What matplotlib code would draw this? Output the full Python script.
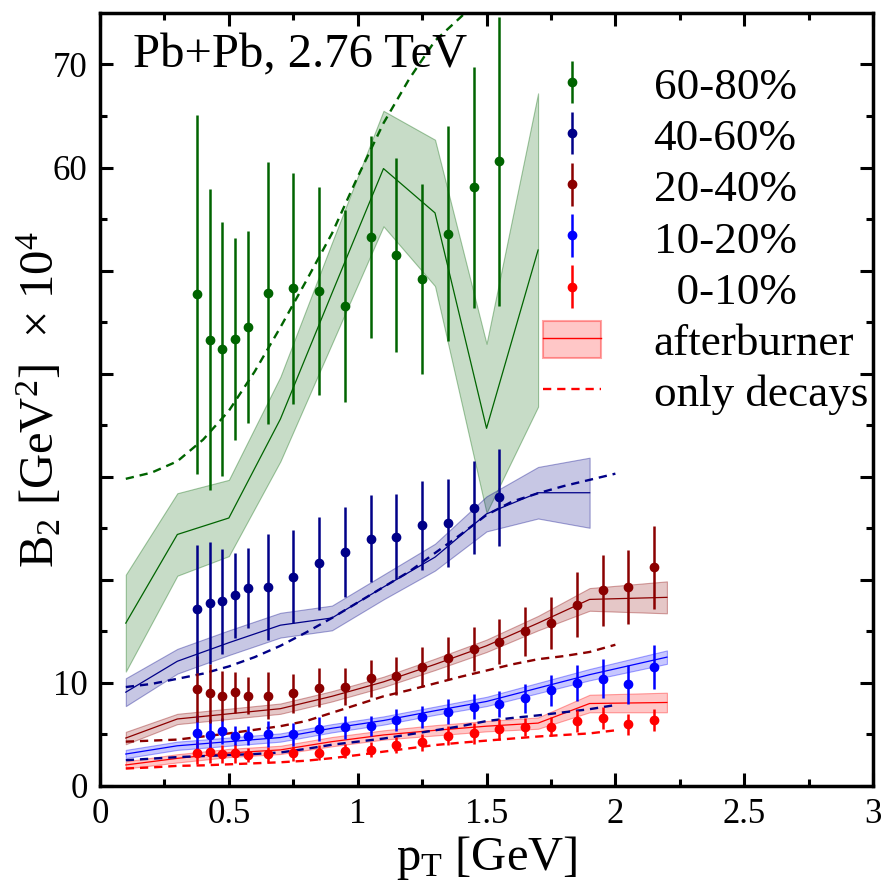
import numpy as np
import matplotlib.pyplot as plt
from matplotlib.colors import to_rgba
from matplotlib.lines import Line2D
from matplotlib.patches import Patch
from matplotlib.container import ErrorbarContainer
from matplotlib.legend_handler import HandlerErrorbar

plt.rcParams['font.family'] = 'serif'
plt.rcParams['font.serif'] = ['Liberation Serif', 'DejaVu Serif']
plt.rcParams['mathtext.fontset'] = 'custom'
plt.rcParams['mathtext.rm'] = 'Liberation Serif'
plt.rcParams['mathtext.it'] = 'Liberation Serif:italic'
plt.rcParams['mathtext.bf'] = 'Liberation Serif:bold'

# centralities, in legend order
labels = ['60-80%', '40-60%', '20-40%', '10-20%', '  0-10%']
colors = ['#006400', '#000088', '#8b0000', '#0000ff', '#ff0000']
dash_colors = ['#006400', '#000088', '#8b0000', '#000088', '#ff0000']

# measured points
pt = [0.375, 0.425, 0.475, 0.525, 0.575, 0.65, 0.75, 0.85, 0.95, 1.05, 1.15,
      1.25, 1.35, 1.45, 1.55, 1.65, 1.75, 1.85, 1.95, 2.05, 2.15]
b2_6080 = [47.7, 43.3, 42.4, 43.4, 44.5, 47.8, 48.3, 48.0, 46.6, 53.3, 51.5,
           49.2, 53.6, 58.1, 60.6]
err_6080 = [17.4, 14.6, 12.3, 9.8, 9.3, 12.7, 11.2, 10.1, 9.3, 9.8, 9.4,
            9.2, 10.4, 11.7, 14.0]
b2_4060 = [17.2, 17.75, 17.9, 18.5, 19.2, 19.3, 20.3, 21.6, 22.7, 24.0, 24.2,
           25.3, 25.5, 27.0, 28.0]
err_4060 = [6.2, 5.9, 5.1, 4.1, 3.9, 5.1, 4.5, 4.5, 4.4, 4.2, 4.1,
            4.3, 4.3, 4.5, 4.7]
b2_2040 = [9.37, 8.98, 8.73, 9.09, 8.76, 8.76, 8.98, 9.54, 9.63, 10.44, 10.7,
           11.54, 12.4, 13.3, 14.0, 15.0, 15.8, 17.6, 19.0, 19.3, 21.2]
err_2040 = [3.2, 2.9, 2.4, 2.0, 1.8, 2.3, 1.9, 1.9, 1.8, 1.8, 1.85,
            1.9, 2.05, 2.1, 2.2, 2.4, 2.55, 3.15, 3.45, 3.55, 4.0]
b2_1020 = [5.11, 4.95, 5.33, 4.88, 4.88, 5.04, 5.0, 5.5, 5.7, 5.8, 6.4,
           6.7, 7.2, 7.7, 7.95, 8.5, 9.3, 9.95, 10.4, 9.85, 11.55]
err_1020 = [1.8, 1.5, 1.3, 0.95, 0.9, 1.25, 1.1, 1.15, 1.1, 1.0, 1.05,
            1.05, 1.2, 1.25, 1.3, 1.4, 1.5, 1.75, 1.9, 1.85, 2.15]
b2_0010 = [3.23, 3.33, 3.1, 3.17, 3.0, 3.07, 3.17, 3.23, 3.42, 3.52, 3.97,
           4.23, 4.88, 5.1, 5.5, 5.7, 5.75, 6.3, 6.6, 5.98, 6.4]
err_0010 = [1.1, 1.1, 0.9, 0.9, 0.65, 0.75, 0.75, 0.75, 0.7, 0.7, 0.8,
            0.8, 0.9, 1.0, 1.0, 0.9, 0.95, 1.1, 1.05, 1.0, 1.1]

# afterburner bands (centre +- half width)
pt_ab = [0.1, 0.3, 0.5, 0.7, 0.9, 1.1, 1.3, 1.5, 1.7, 1.9, 2.2]
ab_6080 = [15.8, 24.4, 26.0, 35.6, 47.8, 59.9, 55.6, 34.7, 52.0]
abw_6080 = [4.7, 4.0, 3.7, 4.1, 4.9, 5.6, 7.1, 8.2, 15.2]
ab_4060 = [9.1, 12.1, 13.9, 15.6, 16.3, 19.3, 22.2, 26.4, 28.45, 28.45]
abw_4060 = [1.35, 1.2, 1.2, 1.2, 1.2, 1.2, 1.3, 1.7, 2.5, 3.4]
ab_2040 = [4.65, 6.5, 7.0, 7.5, 8.7, 10.1, 11.8, 13.6, 15.8, 18.1, 18.3]
abw_2040 = [0.6, 0.5, 0.5, 0.5, 0.5, 0.5, 0.55, 0.6, 0.7, 1.1, 1.55]
ab_1020 = [3.1, 3.9, 4.3, 4.7, 5.6, 6.35, 7.3, 8.2, 9.5, 10.8, 12.5]
abw_1020 = [0.4, 0.4, 0.4, 0.4, 0.4, 0.4, 0.4, 0.45, 0.5, 0.55, 0.65]
ab_0010 = [2.04, 2.68, 3.2, 3.5, 4.3, 4.95, 5.4, 5.8, 6.1, 8.0, 8.1]
abw_0010 = [0.35, 0.4, 0.4, 0.4, 0.45, 0.45, 0.5, 0.5, 0.55, 0.85, 0.95]

# only decays (dashed)
pt_dec = [0.1, 0.2, 0.3, 0.4, 0.5, 0.6, 0.7, 0.8, 0.9, 1.0,
          1.1, 1.2, 1.3, 1.4, 1.5, 1.6, 1.7, 1.8, 1.9, 2.0]
dec_6080 = [29.8, 30.4, 31.5, 33.6, 36.4, 40.2, 44.5, 49.0, 53.6, 59.1,
            64.3, 68.6, 72.3, 74.6, 77.0]
dec_4060 = [9.6, 9.9, 10.4, 10.9, 11.6, 12.5, 13.6, 14.9, 16.3, 17.8,
            19.3, 20.8, 22.6, 24.4, 26.3, 27.6, 28.4, 29.1, 29.7, 30.3]
dec_2040 = [4.3, 4.4, 4.5, 4.8, 5.1, 5.45, 5.8, 6.3, 7.1, 7.9,
            8.7, 9.3, 9.95, 10.6, 11.2, 11.8, 12.3, 12.6, 13.0, 13.7]
dec_1020 = [2.5, 2.65, 2.8, 2.9, 3.0, 3.1, 3.25, 3.6, 4.0, 4.3,
            4.6, 5.0, 5.4, 5.8, 6.3, 6.6, 6.85, 7.15, 7.45, 7.85]
dec_0010 = [1.7, 1.8, 1.95, 2.0, 2.1, 2.2, 2.3, 2.45, 2.7, 3.0,
            3.33, 3.65, 3.97, 4.2, 4.4, 4.6, 4.8, 4.95, 5.1, 5.4]

data = [(b2_6080, err_6080), (b2_4060, err_4060), (b2_2040, err_2040),
        (b2_1020, err_1020), (b2_0010, err_0010)]
bands = [(ab_6080, abw_6080), (ab_4060, abw_4060), (ab_2040, abw_2040),
         (ab_1020, abw_1020), (ab_0010, abw_0010)]
decays = [dec_6080, dec_4060, dec_2040, dec_1020, dec_0010]

fig = plt.figure(figsize=(8.86, 8.86), dpi=100)
ax = fig.add_axes([0.1129, 0.1129, 0.8725, 0.8725])

handles = []
for i, c in enumerate(colors):
    mid, w = np.array(bands[i][0]), np.array(bands[i][1])
    xb = pt_ab[:len(mid)]
    ax.fill_between(xb, mid - w, mid + w, facecolor=to_rgba(c, 0.22),
                    edgecolor=to_rgba(c, 0.35), lw=0.8, zorder=1)
    ax.plot(xb, mid, color=c, lw=0.9, zorder=1.5)
    d = decays[i]
    ax.plot(pt_dec[:len(d)], d, color=dash_colors[i], lw=1.7, ls=(0, (3.5, 2.5)),
            zorder=2)
    y, e = data[i]
    # higher centralities drawn on top of the lower ones
    eb = ax.errorbar(pt[:len(y)], y, yerr=e, fmt='o', color=c, ms=6,
                     elinewidth=1.8, capsize=0)
    eb[0].set_zorder(5)
    for lc in eb[2]:
        lc.set_zorder(3 + (4 - i) * 0.1)
    handles.append(eb)

handles.append((Patch(facecolor=to_rgba('#ff0000', 0.22),
                      edgecolor=to_rgba('#ff0000', 0.35), lw=1.5),
                Line2D([], [], color='#ff0000', lw=1)))
handles.append(Line2D([], [], color='#ff0000', lw=1.7, ls=(0, (3.5, 2.5))))
leg_labels = labels + ['afterburner', 'only decays']

ax.legend(handles, leg_labels, loc='upper left', bbox_to_anchor=(0.573, 0.9330),
          frameon=False, fontsize=32.5, borderpad=0, borderaxespad=0,
          handlelength=1.29, handleheight=0.9, handletextpad=1.16,
          labelspacing=0.175,
          handler_map={ErrorbarContainer: HandlerErrorbar(yerr_size=0.47)})

ax.text(0.0427, 0.929, 'Pb+Pb, 2.76 TeV', transform=ax.transAxes,
        fontsize=35, va='baseline', ha='left')

ax.set_xlim(0, 3)
ax.set_ylim(0, 75)
ax.set_xticks([0, 0.5, 1, 1.5, 2, 2.5, 3])
ax.set_xticklabels(['0', '0.5', '1', '1.5', '2', '2.5', '3'])
ax.set_xticks(np.arange(0.25, 3, 0.5), minor=True)
ax.set_yticks(np.arange(0, 71, 10))
ax.set_yticklabels(['0', '10', '', '', '', '', '60', '70'])
ax.set_yticks(np.arange(5, 75, 10), minor=True)
ax.tick_params(which='both', direction='in', top=True, right=True,
               labelsize=25, pad=9)
ax.tick_params(which='major', length=9.5, width=2.2)
ax.tick_params(which='minor', length=5, width=2.2)
for s in ax.spines.values():
    s.set_linewidth(2.5)

ax.set_xlabel('p$_{\\rm T}$ [GeV]', fontsize=35)
ax.set_ylabel('B$_2$ [GeV$^2$]  \u00d7 10$^4$', fontsize=35)
ax.xaxis.set_label_coords(0.5, -0.062)
ax.yaxis.set_label_coords(-0.047, 0.5)

fig.savefig('out.png', dpi=100)
